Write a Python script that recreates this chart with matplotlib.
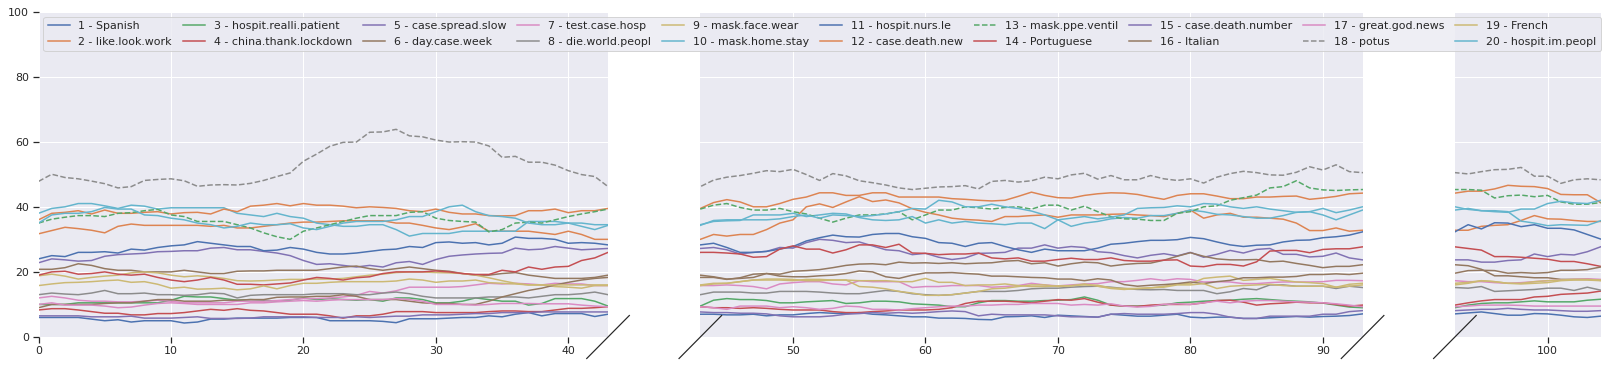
import matplotlib
matplotlib.use("Agg")
import matplotlib.pyplot as plt
from matplotlib.lines import Line2D

# ---------------- data ----------------
x = list(range(105))

labels = ["1 - Spanish", "2 - like.look.work", "3 - hospit.realli.patient",
          "4 - china.thank.lockdown", "5 - case.spread.slow", "6 - day.case.week",
          "7 - test.case.hosp", "8 - die.world.peopl", "9 - mask.face.wear",
          "10 - mask.home.stay", "11 - hospit.nurs.le", "12 - case.death.new",
          "13 - mask.ppe.ventil", "14 - Portuguese", "15 - case.death.number",
          "16 - Italian", "17 - great.god.news", "18 - potus", "19 - French",
          "20 - hospit.im.peopl"]

s1 = [6, 6, 6, 6, 5.5, 5, 5.3, 4.6, 5, 5, 5, 4.3, 4.6, 5.5, 5.5, 5.8, 5.8, 5.8, 5.8, 6, 6, 6,
      5, 5, 5, 5, 4.8, 4.4, 5.6, 5.6, 5.6, 5.8, 6, 6, 6.5, 6.2, 7, 7.5, 6.5, 7.2, 7.2, 7.2, 6.3, 7,
      7, 6.8, 6.8, 7, 6.5, 6.8, 6.8, 7.2, 7.5, 7.3, 7.2, 7.5, 7, 6.8, 6.5, 6.2, 6.2, 5.8, 5.8, 5.7,
      5.4, 5.3, 6.2, 6.3, 6.5, 6, 6.7, 6.5, 6.3,
      6.1, 7, 6.7, 6.4, 6.4, 6.7, 7, 6.1, 5.9, 6.1, 6.1, 5.7, 5.7, 5.9, 6.1, 6.3, 6.1, 6.3, 6.4, 6.6,
      7.1, 7.4, 7.7, 7.2, 6.7, 6.7, 7.2, 7.1, 6.7, 6.2, 6.0, 6.4]
s2 = [31.7, 32.7, 33.7, 33.3, 32.8, 32, 34, 34.7, 34.3, 34.3, 34.3, 34.3, 34.3, 34, 34.3, 33.5, 33.5,
      34, 34.5, 35, 35.3, 35.3, 35.5, 35.7, 35.7, 35.7, 35.7, 35, 35, 34.3, 33.5, 33, 33.8, 34.8, 32.5,
      32.5, 32.5, 32.5, 32, 31.5, 32.5, 31.5, 30, 30,
      31.5, 31, 31.5, 31.5, 33, 35, 36, 40, 40.9, 39.8, 41.5, 43.1, 41.6, 42.1, 41.2, 39.4, 38.3, 37.5,
      36.5, 36.1, 35.9, 35.5, 37, 37, 37.3, 37.5, 36.8, 37.5, 37.5,
      37.5, 37.7, 37.8, 37.5, 37.3, 37, 38, 39, 36.5, 37.5, 38, 36.8, 36.8, 36.5, 36.2, 35, 32.7, 32.7,
      33.5, 32.5,
      32.8, 32.8, 34, 34.3, 34.5, 35.8, 37.3, 36.3, 36.2, 35.8, 35.5, 35.5]
s3 = [10, 10, 10, 10.5, 10.5, 10.5, 10.5, 10.5, 10.5, 10.5, 11.3, 12.5, 12.3, 12.3, 11.8, 11.3, 11.5,
      11.3, 11, 11.3, 12, 11.5, 11.8, 11.5, 11.3, 11.5, 11, 12, 12, 11.5, 10.5, 10.5, 11, 12, 11.5, 11,
      11, 9.8, 10.3, 11.8, 11.8, 11.8, 11, 9.5,
      11.3, 11.8, 11.5, 11.5, 11.2, 10.5, 10.5, 10.8, 11, 11.2, 10.3, 10.5, 11, 11, 10.8, 10.2, 10, 9.8,
      9.3, 9.3, 10.5, 11.2, 11.2, 11, 11, 11.2, 11.3, 11.5, 12.3,
      11.3, 9.8, 9.5, 9.5, 9.6, 9.8, 10.5, 10.7, 11, 11.2, 11.3, 11.6, 11.8, 11.5, 11.2, 11, 10.8, 10.4,
      9.8, 9.2,
      9, 9.8, 10.3, 10.5, 10.5, 10.8, 11.1, 10.8, 10.8, 10.8, 11.3, 11.6]
s4 = [8.3, 8.7, 8.7, 8.3, 7.8, 7.3, 7.3, 6.8, 6.8, 7.2, 7.2, 7.5, 8, 8.5, 8.2, 8.7, 8.2, 8, 7.5, 7, 7, 7,
      6.5, 5.8, 6.5, 6.5, 7, 7.8, 7.8, 7.8, 7.5, 7.5, 7.5, 7.5, 7.8, 8, 8, 7.8, 7.8, 8.3, 8.8, 8.8, 9, 9.3,
      9, 9, 8.8, 9, 8.8, 8.5, 8.3, 8.3, 8.3, 7.8, 7.5, 7.5, 7.8, 8, 8.3, 8.3, 8.3, 8.5, 9, 10.3, 11, 11,
      11, 10.8, 10.5, 11, 11.5, 11.3, 11.8,
      10.7, 9.8, 9.5, 9.4, 9.8, 10, 10, 10, 10.5, 11.2, 11.3, 10.7, 9.8, 10.2, 10.4, 10.7, 10.5, 10.5,
      10, 9.5,
      9.8, 10.5, 11.1, 11.5, 11.5, 11.5, 12.3, 12.5, 13.1, 13.3, 13.5, 14.1]
s5 = [22.8, 24, 23.7, 23.3, 23.5, 24.8, 25.3, 25.5, 25.7, 26.2, 26.3, 26.5, 26.5, 27.3, 27.5, 26.8, 26.8,
      26.3, 25.8, 25, 23.5, 22.3, 22.5, 22, 21.5, 22, 21.5, 22.8, 23.2, 22.3, 23.8, 24.8, 25.2, 25.5, 25.7,
      25.8, 27.3, 26.8, 27, 27.8, 27.3, 26.8, 27, 27.2,
      27.5, 26.8, 25.5, 26, 26.3, 27.5, 27.3, 29, 30, 29.7, 29, 29.2, 28, 26.8, 26.5, 25.3, 25.7, 24.5,
      23.8, 24.3, 25.7, 25.8, 26, 27.3, 27.3, 28.3, 27.3, 27.8, 27.5,
      26.2, 25.9, 25, 24.3, 25.1, 25.6, 24.9, 26, 24.5, 25.4, 26.6, 25.8, 26.9, 27.2, 25.4, 25.4, 24.6,
      24.8, 25.8, 24.3,
      23.7, 23.7, 23, 23, 23.5, 23.7, 25.5, 24.7, 25.4, 25.2, 26.2, 27.7]
s6 = [20.8, 20.8, 21.3, 22.5, 22, 21, 20.5, 20.5, 20, 20, 20, 20.5, 20, 19.5, 19.5, 20.2, 20.3, 20.3,
      20.5, 20.5, 20.5, 20.5, 21, 21.5, 21.8, 21, 20.5, 21, 21.5, 21, 20.5, 20.2, 19.5, 19, 19, 19.5, 19.8,
      19, 18.5, 18, 18, 18, 18.3, 19,
      18.5, 17.8, 18, 18.3, 19.5, 19.3, 20.2, 20.4, 20.7, 21.3, 22, 22.4, 22.5, 22.2, 23, 22.7, 22.8, 22.6,
      22.8, 22.5, 22.7, 22.8, 23.3, 23.5, 22.5, 22.8, 21.8, 22.5, 23,
      22.8, 21.8, 22.3, 22.6, 22.7, 23.6, 24.8, 25.9, 24.8, 24, 23.7, 23.7, 23.8, 23.1, 23.3, 22.6, 22,
      21.3, 21.7, 21.7,
      22.2, 21.9, 20.8, 18.8, 18.8, 18.5, 18.2, 18.2, 17.7, 17.7, 17.7, 17.4]
s7 = [12, 12.5, 12, 11.3, 11, 11, 10.8, 10.8, 11, 11.3, 11, 10.5, 10.5, 10.5, 10.5, 11, 11, 11, 11.2,
      11.5, 11.8, 11.8, 12, 12.3, 12.8, 14, 13.5, 14.2, 15.3, 15.3, 15.3, 15.3, 15.5, 16, 16.5, 16.3, 16.5,
      16.3, 16, 16.5, 16.3, 16.3, 15.8, 15.8,
      15.8, 16, 15.8, 15.5, 14.8, 16.3, 16.7, 17, 17, 16.3, 16, 17.3, 17, 17, 17, 15.2, 15.5, 15.5, 15.8,
      15.8, 15.8, 15.3, 15.5, 15.8, 16.5, 16, 15.7, 16, 16.3,
      16.4, 17, 17, 17.4, 17.9, 17.4, 17.9, 17.7, 16.9, 17, 16.9, 16.4, 16.4, 16.7, 16.9, 16.9, 16.9, 17,
      17.4, 17.4,
      17.3, 17, 17, 16.7, 16.5, 16.7, 17, 17.3, 17.5, 17.7, 17.9, 17.7]
s8 = [13, 13.5, 13.2, 13, 13.5, 14.3, 13.3, 13.3, 13.5, 13, 13, 12.8, 13, 13.5, 13.3, 12, 12.8, 13, 13,
      13, 13, 13.3, 13.3, 13.3, 13, 13, 13.5, 13.8, 13.3, 12.5, 12, 12, 12, 12, 12.3, 12.3, 12.3, 12, 12.5,
      13, 13, 13.3, 13.8, 13,
      13.8, 13.8, 13.8, 13.5, 13.5, 14, 14, 14, 13.8, 13.5, 13.3, 13.3, 13.8, 14.3, 14, 13.3, 13, 12.8, 13,
      13.5, 14, 14, 14, 14.3, 14.8, 15, 15, 15.3, 15.5,
      15.6, 15.3, 14.9, 14.6, 14.5, 14.6, 14.3, 14.3, 14.3, 13.3, 13.9, 14.9, 14.5, 16, 16, 15.6, 15.6,
      15.6, 14.9, 15.6,
      15.2, 15, 15.5, 14, 14.2, 14.4, 14.6, 15, 15, 14.3, 15.3, 14.4]
s9 = [18.8, 19.3, 18.7, 17.8, 18.3, 18.7, 19, 19.7, 20, 19.7, 19, 18.5, 18.8, 18.5, 18, 17.3, 17.2, 17.3,
      17.5, 17.7, 17.7, 17.8, 17.8, 18, 18.5, 19, 19.3, 19.8, 20, 20, 19.8, 19.7, 19.5, 19, 18.2, 17.3,
      16.5, 16, 16, 15.5, 15.3, 15, 15.8, 15.8,
      16.3, 16.5, 17, 17.5, 17.5, 17.5, 17.3, 17.7, 17.7, 17.5, 17.5, 15.5, 15.3, 14.8, 14, 13.5, 12.8,
      12.8, 13, 13.5, 14, 14.8, 15, 15.5, 16, 16, 15.5, 15.8, 16,
      15.9, 15.1, 14.9, 14.9, 15.1, 15.6, 16.2, 16.4, 18, 18.4, 18.7, 17.4, 17.7, 18, 17.4, 16.9, 16.7,
      16.4, 15.3, 16.2,
      16.5, 16.8, 17.3, 17, 16.5, 16.5, 17, 17.3, 17.5, 17.7, 17.7, 17.5]
s10 = [38, 39.5, 40, 41, 41, 40.3, 39.5, 40.5, 40.2, 39.3, 39.7, 39.7, 39.7, 39.7, 39.7, 38, 37.5, 37, 38,
       37, 36.5, 35, 34.5, 34, 34, 34.5, 34.5, 33, 31, 31.8, 31.8, 31.8, 32.5, 32.5, 32.5, 32.5, 32.5,
       35.5, 35.5, 35.5, 35, 35, 34.5, 34.5,
       35.5, 35.7, 35.8, 37.5, 37.5, 37.5, 38, 37, 37.5, 38, 37.8, 36.7, 36, 35.8, 36, 37, 35, 36, 35,
       35.5, 35, 34.8, 34.5, 35, 35, 33.3, 36, 34, 35,
       35.5, 36.3, 36.7, 36.5, 37.3, 37.3, 38, 39, 38.5, 37.7, 37.5, 37, 36.5, 36.5, 37.3, 38.3, 38.5,
       37.5, 36, 37.5,
       39, 39.5, 38.8, 38.8, 38.5, 35.6, 35, 34.2, 34.5, 34.4, 34.3, 35.7]
s11 = [24, 25, 24.7, 26, 26, 26.2, 25.8, 27, 26.7, 27.5, 28, 28.3, 29.3, 28.8, 28.3, 27.8, 27.8, 26.5,
       26.7, 27.5, 27, 26, 25.5, 25.5, 25.8, 26.3, 26.8, 27, 27.8, 27.5, 29, 29.2, 28.8, 29, 28.3, 28.8,
       30.7, 30.3, 30.3, 30, 28.8, 29, 28.8, 28.3,
       28.8, 27.5, 26, 26, 26.3, 27, 27.8, 29.5, 30.5, 31.3, 30.8, 30.7, 31.5, 31.8, 31.8, 30.8, 30.3, 29,
       28.8, 27.8, 28.8, 29, 27.8, 26.8, 26, 27, 26.5, 26.5, 26.5,
       27.3, 28.5, 28.8, 29.3, 29.7, 29.7, 29.9, 30.6, 30.2, 29.2, 28.3, 27.8, 28.2, 28.3, 29.2, 29.7,
       29.8, 30.5, 30.8, 31.3,
       32.3, 34.5, 33.2, 35.1, 35, 33.9, 34.5, 33.4, 33.4, 32.9, 31.5, 30.1]
s12 = [36, 38, 38.3, 38.8, 37.8, 39, 38, 38, 38.3, 38.5, 37.8, 38.2, 38.3, 37.8, 39.3, 38.5, 40.2, 40.5,
       41, 40.3, 41, 40.5, 40.5, 40.2, 39.7, 40, 39.8, 39.5, 38.8, 38.5, 39.3, 38.3, 37.8, 37.8, 37.3,
       37.2, 37.3, 38.8, 38.8, 39.3, 38.2, 38.8, 38.8, 39.5,
       41.3, 42.2, 41.5, 40, 40, 41, 42.3, 43, 44.3, 44.3, 43.5, 43.5, 44.3, 44.3, 43, 43, 43, 43, 42.5,
       42.3, 42, 41.8, 42, 43.2, 44.5, 43.5, 42.8, 42.7, 43.5,
       44, 44.3, 44.2, 43.8, 43, 42.3, 43.5, 44, 44, 43.3, 42.5, 42.5, 43, 43, 43.2, 43.3, 42.3, 42.7,
       43.2, 44,
       44.2, 44.8, 44.8, 45.5, 46.6, 46.3, 46.2, 45.6, 43.8, 43.7, 43.7, 41.3]
s13 = [35, 36.2, 36.8, 37.3, 37.3, 37, 38, 38.2, 38.8, 39.2, 37.5, 37, 35.5, 35.5, 35.5, 34.5, 33.5, 32,
       30.8, 30, 32.5, 33.5, 34.5, 35.5, 36.5, 37.3, 37.3, 37.3, 38.3, 38.5, 36.5, 35.8, 35.5, 35.3, 32.3,
       33, 35, 35.3, 35, 36, 37, 37.8, 38.5, 39.3,
       40.5, 41, 39.8, 39, 39, 39.5, 38.5, 37.8, 36.5, 35.3, 36.5, 37.5, 37.5, 37.8, 38.5, 36, 37.5, 39,
       39, 40, 39.7, 39.3, 39.8, 40, 39.3, 40.5, 40.5, 39, 40.2,
       38.5, 37, 36.3, 36.2, 35.8, 35.8, 38, 38.5, 40, 40.3, 42, 42.8, 43.6, 45.8, 46.2, 48, 45.8, 45.2,
       45, 45.2,
       45.3, 45.3, 45.1, 42.7, 43.4, 43.6, 43.1, 43.5, 41.5, 40.8, 40.8, 41.3]
s14 = [19, 20, 20.2, 19.3, 19.5, 20, 19.3, 19, 19.3, 18.3, 17.5, 17, 17.5, 18.3, 17.5, 16.2, 16.2, 16,
       16.3, 16.6, 17.5, 18.3, 18, 17.5, 18.2, 18.5, 19.5, 20, 20, 20, 20.3, 20, 19.5, 19.2, 19.2, 20.5,
       20, 21.5, 20.8, 21.5, 21.7, 23.5, 24.3, 26,
       26, 25.8, 25.5, 24.5, 24.7, 27, 28, 27, 27, 25.8, 26.8, 28.3, 28.3, 27.5, 28.5, 25.8, 25.7, 25.3,
       25.5, 25.5, 25.8, 24.3, 24, 24.3, 23.3, 23.3, 23.8, 24.2, 23.8,
       23.8, 24.3, 23.5, 23.3, 23.3, 23.6, 23.7, 21.8, 21.6, 22.3, 22.3, 21.8, 23.1, 26.4, 26.6, 26.6,
       25.9, 26.9, 27.1, 27.1,
       27.7, 27.2, 26.7, 24.7, 24.7, 24.5, 24.2, 23.9, 23.2, 23.2, 22.5, 21.7]
s15 = [6.5, 6.5, 6.5, 6.5, 6.2, 6.2, 6.2, 6.4, 5.8, 5.8, 5.8, 6, 6.2, 5.7, 5.7, 5.7, 5.8, 6.2, 6.2, 6.2,
       6.2, 6, 6, 6, 6.2, 6, 6.2, 6.4, 6.4, 6.8, 6.8, 6.8, 7, 7.2, 7.2, 7.5, 7.5, 7.5, 7.7, 7.7, 7.7, 7.7,
       7.7, 7.7,
       7.5, 7.5, 7.3, 7.3, 7.1, 6.5, 6.2, 6.2, 6.2, 6.5, 7, 7.2, 7.5, 7.3, 7.5, 7.3, 7.5, 7.8, 8, 7.8,
       6.5, 7, 6.8, 6.8, 6.8, 6.8, 6.5, 6.2, 6.2,
       6.1, 7, 7.2, 7, 7, 7, 7.2, 7.5, 7.5, 7, 6.1, 5.7, 5.7, 6.4, 6.4, 6.4, 6.4, 7, 7, 7.8,
       8.1, 8.3, 8.5, 8.5, 8.8, 8.5, 8.3, 8.3, 8.1, 7.9, 7.9, 8.1]
s16 = [9, 10, 10, 10, 10, 10.3, 10.5, 10.5, 11, 11.5, 11.5, 11, 11, 11, 11.3, 11.3, 11.5, 11.5, 12.2,
       12.3, 12.3, 12.5, 12.5, 13, 12.5, 11.5, 11.5, 11.5, 11, 10.5, 10.3, 10.3, 10, 10, 11, 12.3, 13.3,
       14.3, 15, 16, 16.8, 17.5, 18, 18.3,
       18.3, 17.7, 18.2, 19.3, 19.5, 18.7, 18.5, 18.5, 18.8, 19, 19.5, 20.3, 20, 18.5, 18, 19, 19.7, 19.7,
       19.8, 19.5, 19.3, 18.7, 18.7, 18.5, 18.3, 18.2, 17.8, 17.8, 17.3,
       17.9, 17.5, 16.1, 15.6, 15.9, 16.1, 16.4, 16.9, 16.4, 17, 17.4, 18.2, 18.2, 18.4, 18.4, 18.6, 19.2,
       19.2, 19.4, 19.2,
       19.6, 20.4, 20.5, 20.4, 19.6, 19.8, 19.6, 19.8, 20.5, 20.5, 20.7, 21.5]
s17 = [10, 10.5, 9.8, 9.8, 9.8, 9.5, 9, 9.2, 9.8, 10.3, 10.5, 10.3, 10, 10, 10, 10, 10.5, 10.5, 10.8,
       11, 11.2, 11, 11.3, 11.5, 11.5, 11.5, 11.5, 11.8, 11.5, 11, 10, 10, 10, 9.8, 10, 10.3, 10.3, 10.3,
       10.2, 10.2, 10.2, 9.8, 9.5, 9.3,
       9, 8.5, 9.5, 9.5, 9.5, 9, 9.3, 9, 8.5, 8.8, 9.5, 9.3, 8.5, 8.5, 8.3, 8.7, 9, 9.3, 9.5, 9.5, 9.8,
       9.8, 10, 10, 10.3, 10.3, 10.3, 9.8, 10,
       9.8, 10.2, 9.5, 9.2, 9.4, 10, 10.2, 10, 10.5, 11, 10.5, 11, 11.2, 11.2, 11, 10.8, 10.7, 10.5,
       10.2, 9.8,
       9.3, 9.5, 9.8, 9.8, 9.8, 9.7, 9.5, 9.5, 9.5, 9.5, 9.5, 9.5]
s18 = [47.8, 50, 49, 48.6, 47.9, 47.1, 45.8, 46.2, 48.1, 48.4, 48.6, 48, 46.3, 46.7, 46.8, 46.7, 47.2,
       48.1, 49.3, 50.4, 54, 56.2, 58.6, 59.8, 59.9, 62.9, 63, 63.8, 61.8, 61.5, 60.5, 59.9, 60, 59.9,
       58.7, 55.2, 55.5, 53.7, 53.7, 52.8, 51.1, 49.9, 49.3, 46.2,
       48.2, 49.1, 49.6, 50.3, 51.1, 50.8, 51.5, 49.9, 48.1, 50.2, 49.5, 48, 47.4, 46.7, 45.8, 45.3, 45.7,
       46.1, 46.2, 46.5, 45.5, 47.8, 48.1, 47.6, 48, 49.1, 48.6, 49.8, 50.3,
       48.5, 49.6, 48.3, 48.3, 49.6, 48.6, 48.1, 48.6, 47.3, 49.1, 50.2, 50.9, 50.5, 49.8, 49.7, 50.6,
       52.3, 51.3, 52.9, 50.8,
       50.5, 50.1, 50.8, 51.4, 51.5, 52.1, 49.4, 49.4, 47.2, 48.3, 48.6, 48.3]
s19 = [15.8, 16.3, 16.7, 16.8, 17, 17.3, 17.5, 16.8, 17, 16.2, 15, 15.3, 14.7, 14.8, 15, 14.5, 14.8, 15.7,
       14.8, 15.8, 16.5, 16.5, 16.8, 17, 17, 17, 17, 17.2, 17.8, 17.5, 16.8, 17.2, 17.2, 17.5, 16.7, 16.5,
       16.3, 16, 16, 16, 16, 16, 16, 16,
       16.5, 16.5, 17, 17.5, 17.8, 17.8, 17.7, 17.3, 17.3, 17.5, 17.5, 17.3, 17.3, 17.3, 17, 17, 18, 16.8,
       16.8, 15.8, 16, 16, 16.3, 15.8, 15.5, 15.5, 15.7, 15.7, 16.3,
       15.6, 14.9, 14.6, 14.9, 15.1, 15.3, 16, 16, 16.4, 14.9, 15.6, 15.8, 16, 16.2, 15.8, 15.6, 15.6,
       15.6, 15.3, 15.6,
       16, 16.5, 17.3, 17, 16.5, 16.3, 16.5, 16.7, 17.3, 17.5, 17.5, 17.3]
s20 = [35, 37.5, 38, 38, 38.5, 39.8, 39.3, 39.3, 37.5, 37.3, 36.5, 36, 35, 34.5, 33.5, 34, 35, 34.5, 34.5,
       34.8, 33.5, 33, 34, 35, 35.5, 35.5, 35.5, 36, 37, 37, 38.5, 40, 40.5, 38.5, 37.3, 37, 36.5, 35,
       34.5, 34.5, 35, 34, 33, 34.3,
       35.8, 36, 36, 36, 36, 36.3, 37, 37.5, 36.5, 37.5, 37.3, 37, 37.3, 37.8, 38.5, 39.5, 39.3, 42, 41.5,
       40, 40, 40.8, 40, 39.5, 38.7, 37.5, 36, 36.5, 37,
       36.3, 36.8, 37.5, 39.5, 39.7, 39.8, 40.3, 40, 41, 40.8, 40, 39.5, 40, 39.3, 38.8, 38.3, 38.5, 39.5,
       38.2, 39,
       40, 39.2, 38.8, 38.5, 38.3, 39.3, 39.3, 41, 41.7, 41.2, 41, 42]

series = [s1, s2, s3, s4, s5, s6, s7, s8, s9, s10,
          s11, s12, s13, s14, s15, s16, s17, s18, s19, s20]
for i, s in enumerate(series):
    if len(s) != len(x):
        raise ValueError(f"series {i+1} has {len(s)} values")

xlims = [(0, 43), (43, 93), (93, 104)]
xticks = [[0, 10, 20, 30, 40], [50, 60, 70, 80, 90], [100]]
yticks = [0, 20, 40, 60, 80, 100]

# ---------------- style ----------------
palette = ["#4C72B0", "#DD8452", "#55A868", "#C44E52", "#8172B3",
           "#937860", "#DA8BC3", "#8C8C8C", "#CCB974", "#64B5CD"]
colors = palette + palette
dashed = {12, 17}   # series 13 and 18 (0-based)

TXT = "#262626"
plt.rcParams.update({
    "font.family": "DejaVu Sans",
    "font.size": 11,
    "text.color": TXT,
    "axes.labelcolor": TXT,
    "xtick.color": TXT,
    "ytick.color": TXT,
})

W, H, DPI = 1607, 365, 72
fig = plt.figure(figsize=(W / DPI, H / DPI), dpi=DPI)
fig.patch.set_facecolor("white")

scale = 13.245      # px per x-unit
left0 = 38.5        # px
gap = 92.3          # px
top_px, bot_px = 11.5, 337.0

axes = []
cur = left0
corners = []
for k, (lo, hi) in enumerate(xlims):
    w = (hi - lo) * scale
    ax = fig.add_axes([cur / W, (H - bot_px) / H, w / W, (bot_px - top_px) / H])
    ax.set_facecolor("#EAEAF2")
    for sp in ax.spines.values():
        sp.set_visible(False)
    ax.grid(True, color="white", lw=1)
    ax.set_axisbelow(True)
    for i, s in enumerate(series):
        ax.plot(x, s, color=colors[i], lw=1.5,
                ls="--" if i in dashed else "-")
    ax.set_xlim(lo, hi)
    ax.set_ylim(0, 100)
    ax.set_xticks(xticks[k])
    ax.set_yticks(yticks)
    ax.tick_params(axis="x", length=6, width=1.25, color=TXT, labelsize=11, pad=3.5)
    if k == 0:
        ax.tick_params(axis="y", length=6, width=1.25, color=TXT, labelsize=11, pad=3.5)
    else:
        ax.tick_params(axis="y", left=False, labelleft=False)
    axes.append(ax)
    corners.append((cur, cur + w))
    cur += w + gap

# break marks
dx, dy = 21.3, 21.5
mark_x = [corners[0][1], corners[1][0], corners[1][1], corners[2][0]]
for cx in mark_x:
    fig.add_artist(Line2D([(cx - dx) / W, (cx + dx) / W],
                          [(H - (bot_px + dy)) / H, (H - (bot_px - dy)) / H],
                          transform=fig.transFigure, color="#262626", lw=1.2))

# legend
handles = [Line2D([0], [0], color=colors[i], lw=1.5, ls="--" if i in dashed else "-")
           for i in range(20)]
leg = fig.legend(handles, labels, ncol=10, loc="upper left",
                 bbox_to_anchor=(43.3 / W, 1 - 16.7 / H), borderaxespad=0,
                 fontsize=11, frameon=True, facecolor="#EAEAF2", edgecolor="0.8",
                 framealpha=0.8, fancybox=True, columnspacing=1.0)

fig.savefig("out.png", dpi=DPI)
